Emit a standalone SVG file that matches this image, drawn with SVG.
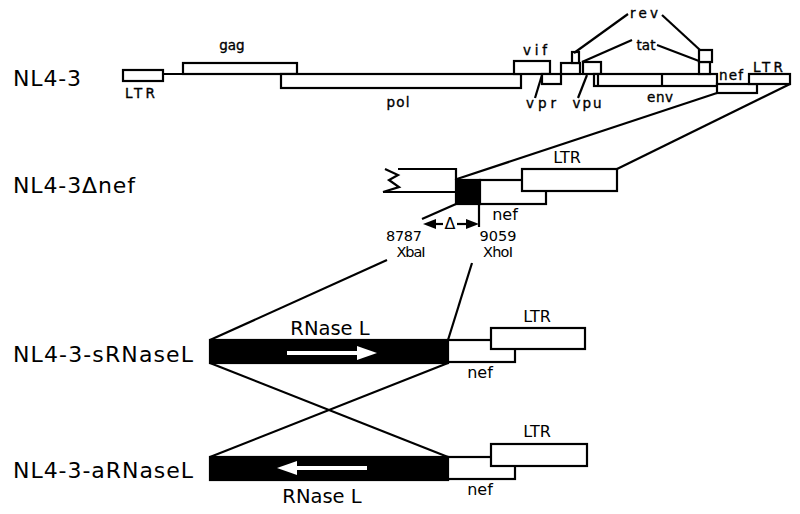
<svg xmlns="http://www.w3.org/2000/svg" width="800" height="514" viewBox="0 0 800 514">
<style>
.b{fill:#fff;stroke:#000;stroke-width:2.2}
.k{fill:#000;stroke:#000;stroke-width:2.2}
.ln{stroke:#000;stroke-width:2.2;fill:none}
.t{font-family:"DejaVu Sans","Liberation Sans",Arial,sans-serif;fill:#000}
.big{font-size:22px}
.sm{font-size:13.5px;stroke:#000;stroke-width:0.35}
.md{font-size:16px}
.num{font-size:14.5px}
.mid{text-anchor:middle}
</style>
<rect width="800" height="514" fill="#fff"/>

<g id="labels">
<text class="t big" x="13" y="86" textLength="68" lengthAdjust="spacing">NL4-3</text>
<text class="t big" x="13" y="193" textLength="122" lengthAdjust="spacing">NL4-3Δnef</text>
<text class="t big" x="13" y="362" textLength="180" lengthAdjust="spacing">NL4-3-sRNaseL</text>
<text class="t big" x="13" y="478" textLength="180" lengthAdjust="spacing">NL4-3-aRNaseL</text>
</g>

<g id="connectors">
<line class="ln" x1="717" y1="93" x2="457" y2="179"/>
<line class="ln" x1="790" y1="84" x2="617" y2="169"/>
<line class="ln" x1="387" y1="260" x2="210" y2="340"/>
<line class="ln" x1="472" y1="263" x2="448" y2="340"/>
<line class="ln" x1="210" y1="363" x2="448" y2="457"/>
<line class="ln" x1="448" y1="363" x2="210" y2="457"/>
</g>

<g id="nl43">
<line class="ln" x1="163" y1="74" x2="717" y2="74"/>
<rect class="b" x="123" y="70" width="40" height="11"/>
<rect class="b" x="183" y="63" width="114" height="11"/>
<rect class="b" x="281" y="74" width="240" height="14"/>
<rect class="b" x="514" y="61" width="36" height="13"/>
<rect class="b" x="542" y="74" width="19" height="10"/>
<rect class="b" x="561" y="63" width="19" height="11"/>
<rect class="b" x="572" y="52" width="7" height="11"/>
<rect class="b" x="583" y="62" width="18" height="12"/>
<rect class="b" x="594" y="74" width="123" height="12"/>
<line class="ln" x1="598" y1="74" x2="598" y2="86"/>
<line class="ln" x1="662" y1="74" x2="662" y2="86"/>
<rect class="b" x="699" y="62" width="11" height="12"/>
<rect class="b" x="699" y="50" width="13" height="12"/>
<rect class="b" x="717" y="84" width="40" height="9"/>
<rect class="b" x="749" y="74" width="41" height="10"/>
<line class="ln" x1="628" y1="14" x2="574" y2="53"/>
<line class="ln" x1="662" y1="15" x2="700" y2="50"/>
<line class="ln" x1="632" y1="40" x2="582" y2="62"/>
<line class="ln" x1="657" y1="45" x2="699" y2="61"/>
<line class="ln" x1="542" y1="75" x2="535" y2="98"/>
<line class="ln" x1="587" y1="75" x2="578" y2="98"/>
<text class="t sm mid" x="140" y="98" textLength="30" lengthAdjust="spacing">LTR</text>
<text class="t sm mid" x="232" y="50">gag</text>
<text class="t sm mid" x="398" y="107" textLength="23" lengthAdjust="spacing">pol</text>
<text class="t sm mid" x="535" y="55" textLength="24" lengthAdjust="spacing">vif</text>
<text class="t sm mid" x="541" y="108" textLength="30" lengthAdjust="spacing">vpr</text>
<text class="t sm mid" x="587" y="108" textLength="29" lengthAdjust="spacing">vpu</text>
<text class="t sm mid" x="660" y="102" textLength="26" lengthAdjust="spacing">env</text>
<text class="t sm mid" x="644" y="18" textLength="28" lengthAdjust="spacing">rev</text>
<text class="t sm mid" x="646" y="50">tat</text>
<text class="t sm mid" x="731" y="80" textLength="24" lengthAdjust="spacing">nef</text>
<text class="t sm mid" x="768" y="72" textLength="30" lengthAdjust="spacing">LTR</text>
</g>

<g id="nl43dnef">
<path class="ln" d="M398,169 H456 V180 M456,192 H383"/>
<path class="ln" d="M385,169 L398,175 L389,180 L399,187 L383,192"/>
<rect class="k" x="456" y="180" width="24" height="24"/>
<rect class="b" x="480" y="180" width="66" height="24"/>
<rect class="b" x="522" y="169" width="95" height="22"/>
<line class="ln" x1="456" y1="204" x2="422" y2="219"/>
<line class="ln" x1="479" y1="204" x2="479" y2="227"/>
<line class="ln" x1="433" y1="224" x2="443" y2="224"/>
<line class="ln" x1="457" y1="224" x2="468" y2="224"/>
<polygon points="423,224 436,219 436,229" fill="#000"/>
<polygon points="479,224 466,219 466,229" fill="#000"/>
<text class="t md mid" x="450" y="229">Δ</text>
<text class="t md mid" x="567" y="163">LTR</text>
<text class="t md mid" x="505" y="220">nef</text>
<text class="t num mid" x="404" y="241" textLength="36" lengthAdjust="spacing">8787</text>
<text class="t num mid" x="411" y="257" textLength="29" lengthAdjust="spacing">XbaI</text>
<text class="t num mid" x="498" y="241" textLength="37" lengthAdjust="spacing">9059</text>
<text class="t num mid" x="498" y="257" textLength="30" lengthAdjust="spacing">XhoI</text>
</g>

<g id="srnasel">
<rect class="k" x="210" y="340" width="238" height="23"/>
<line x1="287" y1="353" x2="360" y2="353" stroke="#fff" stroke-width="4"/>
<polygon points="357,346 377,353 357,360" fill="#fff"/>
<rect class="b" x="448" y="340" width="67" height="22"/>
<rect class="b" x="491" y="328" width="94" height="21"/>
<text class="t mid" style="font-size:19.5px" x="330" y="335">RNase L</text>
<text class="t md mid" x="537" y="322">LTR</text>
<text class="t md mid" x="480" y="378">nef</text>
</g>

<g id="arnasel">
<rect class="k" x="210" y="457" width="238" height="23"/>
<line x1="295" y1="468" x2="367" y2="468" stroke="#fff" stroke-width="4"/>
<polygon points="297,461 277,468 297,475" fill="#fff"/>
<rect class="b" x="448" y="457" width="67" height="22"/>
<rect class="b" x="491" y="444" width="96" height="22"/>
<text class="t mid" style="font-size:19.5px" x="322" y="503">RNase L</text>
<text class="t md mid" x="537" y="437">LTR</text>
<text class="t md mid" x="480" y="495">nef</text>
</g>
</svg>
